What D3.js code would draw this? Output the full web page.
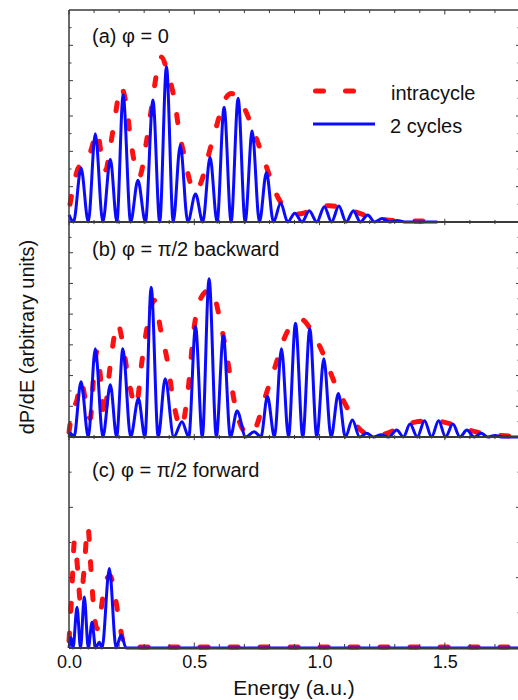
<!DOCTYPE html>
<html>
<head>
<meta charset="utf-8">
<script src="https://cdn.jsdelivr.net/npm/d3@7"></script>
<style>
  html, body { margin: 0; padding: 0; background: #fff; }
  svg { display: block; font-family: "Liberation Sans", Arial, sans-serif; }
</style>
</head>
<body>
<svg id="chart" width="518" height="700"></svg>
<script>
// ---------------- DATA ----------------
// x tick labels (energy, a.u.)
const xTickValues = [0.0, 0.5, 1.0, 1.5];
const panelLabels = ["(a) \u03C6 = 0", "(b) \u03C6 = \u03C0/2 backward", "(c) \u03C6 = \u03C0/2 forward"];
const legendLabels = ["intracycle", "2 cycles"];

// Panel (a) phi = 0 : [energy, dP/dE]
const aTwoCycles = [
  [0.0,0.4],[0.018,0],[0.048,3.05],[0.077,0],[0.105,5.0],[0.135,0],[0.165,3.55],[0.191,0],
  [0.216,7.2],[0.246,0],[0.275,2.37],[0.305,0],[0.335,6.9],[0.362,0],[0.389,8.8],[0.416,0],
  [0.444,4.35],[0.474,0],[0.505,1.58],[0.534,0],[0.563,3.67],[0.591,0],[0.619,6.5],[0.647,0],
  [0.675,7.0],[0.703,0],[0.731,5.15],[0.76,0],[0.788,2.8],[0.816,0],[0.845,1.07],[0.873,0],
  [0.901,0.5],[0.93,0],[0.959,0.64],[0.989,0],[1.019,0.87],[1.048,0],[1.077,0.9],[1.106,0],
  [1.135,0.64],[1.163,0],[1.192,0.4],[1.22,0],[1.25,0.2],[1.28,0],[1.31,0.08],[1.34,0],[1.47,0]
];
const aIntracycle = [
  [0.004,1.0],[0.02,2.2],[0.041,3.13],[0.061,3.22],[0.088,4.07],[0.112,5.1],[0.135,3.3],[0.146,2.94],
  [0.165,4.28],[0.188,6.33],[0.205,7.65],[0.228,6.7],[0.248,4.45],[0.268,2.94],[0.281,2.56],
  [0.308,4.45],[0.328,6.33],[0.355,8.8],[0.368,9.34],[0.395,8.4],[0.421,6.9],[0.441,5.0],
  [0.461,3.7],[0.481,2.37],[0.501,1.72],[0.528,2.28],[0.555,3.7],[0.588,5.39],[0.621,6.9],
  [0.648,7.27],[0.675,7.08],[0.715,5.95],[0.755,4.45],[0.788,3.13],[0.815,2.0],[0.848,1.05],
  [0.888,0.58],[0.91,0.45],[0.94,0.52],[0.968,0.68],[1.008,0.87],[1.04,0.92],[1.07,0.87],
  [1.1,0.75],[1.141,0.58],[1.2,0.3],[1.25,0.15],[1.3,0.08],[1.47,0.05]
];

// Panel (b) phi = pi/2 backward
const bTwoCycles = [
  [0.0,0],[0.006,0.25],[0.02,0],[0.048,3.6],[0.077,0],[0.105,5.75],[0.135,0],[0.165,3.4],[0.19,0],
  [0.215,5.75],[0.246,0],[0.277,2.5],[0.303,0],[0.328,9.75],[0.356,0],[0.384,3.8],[0.418,0],
  [0.451,1.0],[0.478,0],[0.505,7.2],[0.532,0],[0.559,10.3],[0.588,0],[0.616,6.6],[0.644,0],
  [0.671,1.7],[0.705,0],[0.739,0.35],[0.766,0],[0.792,2.65],[0.82,0],[0.848,5.75],[0.876,0],
  [0.904,7.4],[0.933,0],[0.961,7.05],[0.989,0],[1.017,5.1],[1.046,0],[1.075,2.84],[1.103,0],
  [1.131,1.1],[1.16,0],[1.188,0.24],[1.216,0],[1.245,0.15],[1.276,0],[1.308,0.45],[1.335,0],
  [1.361,0.84],[1.39,0],[1.419,1.06],[1.447,0],[1.475,1.06],[1.503,0],[1.532,0.84],[1.56,0],
  [1.588,0.45],[1.617,0],[1.645,0.24],[1.672,0],[1.7,0.1],[1.73,0],[1.8,0]
];
const bIntracycle = [
  [0.0,0.3],[0.015,1.9],[0.03,2.3],[0.048,3.6],[0.065,2.5],[0.085,1.2],[0.1,4.3],[0.112,5.6],
  [0.125,4.0],[0.14,1.2],[0.155,3.3],[0.17,5.4],[0.195,7.4],[0.21,6.5],[0.235,4.0],[0.268,2.0],
  [0.29,4.8],[0.31,7.0],[0.34,8.9],[0.368,6.8],[0.392,5.0],[0.42,2.0],[0.448,0.6],[0.472,2.6],
  [0.5,7.2],[0.528,9.1],[0.565,9.6],[0.608,7.2],[0.635,4.8],[0.661,2.2],[0.69,0.6],[0.72,0.15],
  [0.745,0.6],[0.781,2.5],[0.821,4.5],[0.861,6.5],[0.9,7.5],[0.928,7.65],[0.961,7.1],[1.008,5.65],
  [1.061,3.5],[1.115,1.75],[1.149,0.72],[1.19,0.2],[1.23,0.12],[1.27,0.25],[1.341,0.78],
  [1.39,1.0],[1.45,1.08],[1.5,0.95],[1.568,0.6],[1.62,0.35],[1.7,0.12],[1.8,0.05]
];

// Panel (c) phi = pi/2 forward
const cTwoCycles = [
  [0.0,0],[0.008,0.3],[0.016,0],[0.032,1.16],[0.046,0],[0.061,1.45],[0.077,0],[0.092,0.73],
  [0.106,0],[0.121,0.16],[0.132,0],[0.161,2.26],[0.188,0],[0.208,0.37],[0.228,0],[1.8,0]
];
const cIntracycle = [
  [0.0,0.2],[0.01,1.4],[0.022,3.05],[0.035,2.2],[0.045,1.35],[0.06,2.2],[0.075,3.45],[0.088,2.2],
  [0.1,1.0],[0.112,0.55],[0.128,1.1],[0.145,1.9],[0.165,2.05],[0.182,1.55],[0.2,0.78],
  [0.218,0.15],[0.24,0.03],[1.8,0.03]
];

// ---------------- LAYOUT ----------------
const svg = d3.select("#chart");
const xL = 69, xR = 520;
const x = d3.scaleLinear().domain([0, 1.8]).range([xL, xR]);

const panels = [
  { top: 10,  bottom: 222, ymax: 12, blue: aTwoCycles, red: aIntracycle, label: panelLabels[0], labelY: 43 },
  { top: 222, bottom: 437, ymax: 14, blue: bTwoCycles, red: bIntracycle, label: panelLabels[1], labelY: 256 },
  { top: 437, bottom: 648, ymax: 6,  blue: cTwoCycles, red: cIntracycle, label: panelLabels[2], labelY: 477 }
];

const RED = "#ff1010", BLUE = "#0a0aff", FRAME = "#3a3a3a";

panels.forEach(p => {
  p.y = d3.scaleLinear().domain([0, p.ymax]).range([p.bottom, p.top]);
});

// curves
panels.forEach(p => {
  const line = d3.line().x(d => x(d[0])).y(d => p.y(d[1])).curve(d3.curveMonotoneX);
  svg.append("path").attr("d", line(p.red))
    .attr("fill", "none").attr("stroke", RED).attr("stroke-width", 5)
    .attr("stroke-dasharray", "8,22").attr("stroke-linecap", "round");
  svg.append("path").attr("d", line(p.blue))
    .attr("fill", "none").attr("stroke", BLUE).attr("stroke-width", 3)
    .attr("stroke-linejoin", "round");
});

// frame lines
const frame = svg.append("g").attr("stroke", FRAME).attr("fill", "none");
[10, 222, 437, 648].forEach((yy, i) => {
  frame.append("line").attr("x1", xL).attr("x2", xR).attr("y1", yy).attr("y2", yy)
    .attr("stroke-width", i === 0 ? 1.5 : 2);
});
frame.append("line").attr("x1", xL).attr("x2", xL).attr("y1", 10).attr("y2", 648).attr("stroke-width", 1.5);
frame.append("line").attr("x1", xR).attr("x2", xR).attr("y1", 10).attr("y2", 648).attr("stroke-width", 1.5);

// x ticks on every horizontal boundary
const xMinor = d3.range(0, 19).map(i => i / 10);
const isMajorX = v => Math.abs(v * 2 - Math.round(v * 2)) < 1e-9;
[10, 222, 437, 648].forEach((yy, i) => {
  xMinor.forEach(v => {
    const len = isMajorX(v) ? 4.5 : 3;
    let y1, y2;
    if (i === 0) { y1 = yy; y2 = yy + len; }
    else if (i === 3) { y1 = yy - len - 1; y2 = yy; }
    else { y1 = yy - len * 0.7; y2 = yy + len * 0.7; }
    frame.append("line").attr("x1", x(v)).attr("x2", x(v)).attr("y1", y1).attr("y2", y2).attr("stroke-width", 1);
  });
});

// y ticks (left and right), every unit; even units longer
panels.forEach(p => {
  d3.range(1, p.ymax).forEach(v => {
    const len = (v % 2 === 0) ? 4 : 2.5;
    const yy = p.y(v);
    frame.append("line").attr("x1", xL).attr("x2", xL + len).attr("y1", yy).attr("y2", yy).attr("stroke-width", 1);
    frame.append("line").attr("x1", xR - len).attr("x2", xR).attr("y1", yy).attr("y2", yy).attr("stroke-width", 1);
  });
});

// x tick labels via axis
const xAxis = d3.axisBottom(x).tickValues(xTickValues).tickFormat(d3.format(".1f")).tickSize(0).tickPadding(7);
const gx = svg.append("g").attr("transform", "translate(0,648)").call(xAxis);
gx.select(".domain").remove();
gx.selectAll("text").attr("font-size", 18).attr("fill", "#111")
  .attr("font-family", "'Liberation Sans', Arial, sans-serif");

// axis titles
svg.append("text").attr("x", 294).attr("y", 695).attr("text-anchor", "middle")
  .attr("font-size", 21).attr("fill", "#111").text("Energy (a.u.)");
svg.append("text").attr("transform", "translate(34,337) rotate(-90)").attr("text-anchor", "middle")
  .attr("font-size", 20).attr("fill", "#111").text("dP/dE (arbitrary units)");

// panel labels
panels.forEach(p => {
  svg.append("text").attr("x", 92).attr("y", p.labelY).attr("font-size", 20).attr("fill", "#111").text(p.label);
});

// legend
const lg = svg.append("g");
lg.append("line").attr("x1", 315.5).attr("x2", 356).attr("y1", 91).attr("y2", 91)
  .attr("stroke", RED).attr("stroke-width", 5).attr("stroke-dasharray", "8,22").attr("stroke-linecap", "round");
lg.append("line").attr("x1", 313).attr("x2", 375).attr("y1", 124).attr("y2", 124)
  .attr("stroke", BLUE).attr("stroke-width", 3);
lg.append("text").attr("x", 391).attr("y", 100).attr("font-size", 20).attr("fill", "#111").text(legendLabels[0]);
lg.append("text").attr("x", 390).attr("y", 133).attr("font-size", 20).attr("fill", "#111").text(legendLabels[1]);
</script>
</body>
</html>
